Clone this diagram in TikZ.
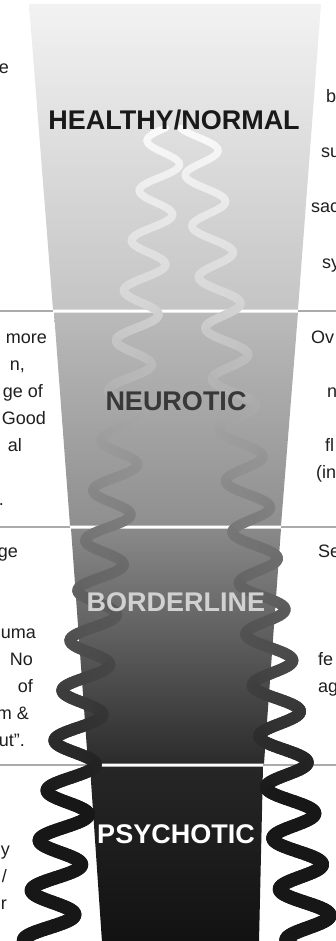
\documentclass[tikz,border=0pt]{standalone}
\usepackage{fontspec}
\setmainfont{Liberation Sans}
\begin{document}
\begin{tikzpicture}[x=1pt,y=-1pt,
  level/.style={font=\fontsize{27}{27}\selectfont\bfseries, anchor=base, inner sep=0pt},
  side/.style={font=\fontsize{18}{27}\selectfont, inner sep=0pt, text=black!88},
  lside/.style={side, anchor=base east},
  rside/.style={side, anchor=base west},
  sep/.style={draw=black!33, line width=2.6pt},
  declare function={
    cl(\y)=165-0.147*(\y-140);
    cr(\y)=200+0.139*(\y-150);
    amp(\y)=18+0.007*(\y-130);
    xl(\y)=cl(\y)-amp(\y)*cos(7.2*(\y-140));
    xr(\y)=cr(\y)+amp(\y)*cos(7.0588*(\y-150));
    wd(\y)=7+0.0085*(\y-130);
    gs(\y)=(\y<300) ? (0.98-0.00082*(\y-130)) : ((\y<530) ? (0.84-0.0016*(\y-300)) : max(0.09,0.47-0.0014*(\y-530)));
  }]
\useasboundingbox (0,0) rectangle (336,941);
\fill[white] (0,0) rectangle (336,941);

% the four bands of the funnel
\shade[top color=black!5, bottom color=black!23]
  (29,4) -- (321,4) -- (298,309.5) -- (53,309.5) -- cycle;
\shade[top color=black!27, bottom color=black!44]
  (54,312.5) -- (298,312.5) -- (281,525.5) -- (70,525.5) -- cycle;
\shade[top color=black!46, bottom color=black!83]
  (71,528.5) -- (281,528.5) -- (264,763.5) -- (88,763.5) -- cycle;
\shade[top color=black!85, bottom color=black!93]
  (90,766.5) -- (263,766.5) -- (259,942) -- (102,942) -- cycle;

% separator rules outside the funnel
\draw[sep] (0,311) -- (53,311);
\draw[sep] (298,311) -- (336,311);
\draw[sep] (0,527) -- (70,527);
\draw[sep] (281,527) -- (336,527);
\draw[sep] (0,765) -- (89,765);
\draw[sep] (263,765) -- (336,765);

% the two wavy strands, darkening and thickening downwards
\foreach \i in {0,...,545} {
  \pgfmathsetmacro{\ya}{128+1.5*\i}
  \pgfmathsetmacro{\yb}{\ya+1.5}
  \pgfmathsetmacro{\xa}{xl(\ya)}
  \pgfmathsetmacro{\xb}{xl(\yb)}
  \pgfmathsetmacro{\w}{wd(\ya)}
  \pgfmathsetmacro{\pc}{100*(1-gs(\ya))}
  \draw[line width=\w pt, black!\pc, line cap=round] (\xa,\ya) -- (\xb,\yb);
}
\foreach \i in {0,...,545} {
  \pgfmathsetmacro{\ya}{128+1.5*\i}
  \pgfmathsetmacro{\yb}{\ya+1.5}
  \pgfmathsetmacro{\xa}{xr(\ya)}
  \pgfmathsetmacro{\xb}{xr(\yb)}
  \pgfmathsetmacro{\w}{wd(\ya)}
  \pgfmathsetmacro{\pc}{100*(1-gs(\ya))}
  \draw[line width=\w pt, black!\pc, line cap=round] (\xa,\ya) -- (\xb,\yb);
}

% level labels
\node[level, text=black!90] (healthy) at (174,130) {HEALTHY/NORMAL};
\node[level, text=black!78] (neurotic) at (176,410) {NEUROTIC};
\node[level, text=black!18] (borderline) at (176,611) {BORDERLINE};
\node[level, text=white] (psychotic) at (176,843) {PSYCHOTIC};

% left column
\node[lside] (l1) at (9,74) {e};
\node[lside] (l2) at (47,343) {more};
\node[lside] (l3) at (25,370) {n,};
\node[lside] (l4) at (43,397) {ge of};
\node[lside] (l5) at (46,424) {Good};
\node[lside] (l6) at (22,451) {al};
\node[lside] (l7) at (4,505) {.};
\node[lside] (l8) at (18,557) {ge};
\node[lside] (l9) at (36,638) {uma};
\node[lside] (l10) at (33,665) {No};
\node[lside] (l11) at (33,692) {of};
\node[lside] (l12) at (29,719) {m \&};
\node[lside] (l13) at (25,746) {ut”.};
\node[lside] (l14) at (10,855) {y};
\node[lside] (l15) at (7,882) {/};
\node[lside] (l16) at (7,909) {r};

% right column
\node[rside] (r1) at (326,103) {b};
\node[rside] (r2) at (321,158) {su};
\node[rside] (r3) at (311,213) {sac};
\node[rside] (r4) at (322,268) {sy};
\node[rside] (r5) at (311,343) {Ov};
\node[rside] (r6) at (327,397) {n};
\node[rside] (r7) at (325,451) {fl};
\node[rside] (r8) at (316,478) {(in};
\node[rside] (r9) at (318,557) {Se};
\node[rside] (r10) at (318,665) {fe};
\node[rside] (r11) at (318,692) {ag};
\end{tikzpicture}
\end{document}
